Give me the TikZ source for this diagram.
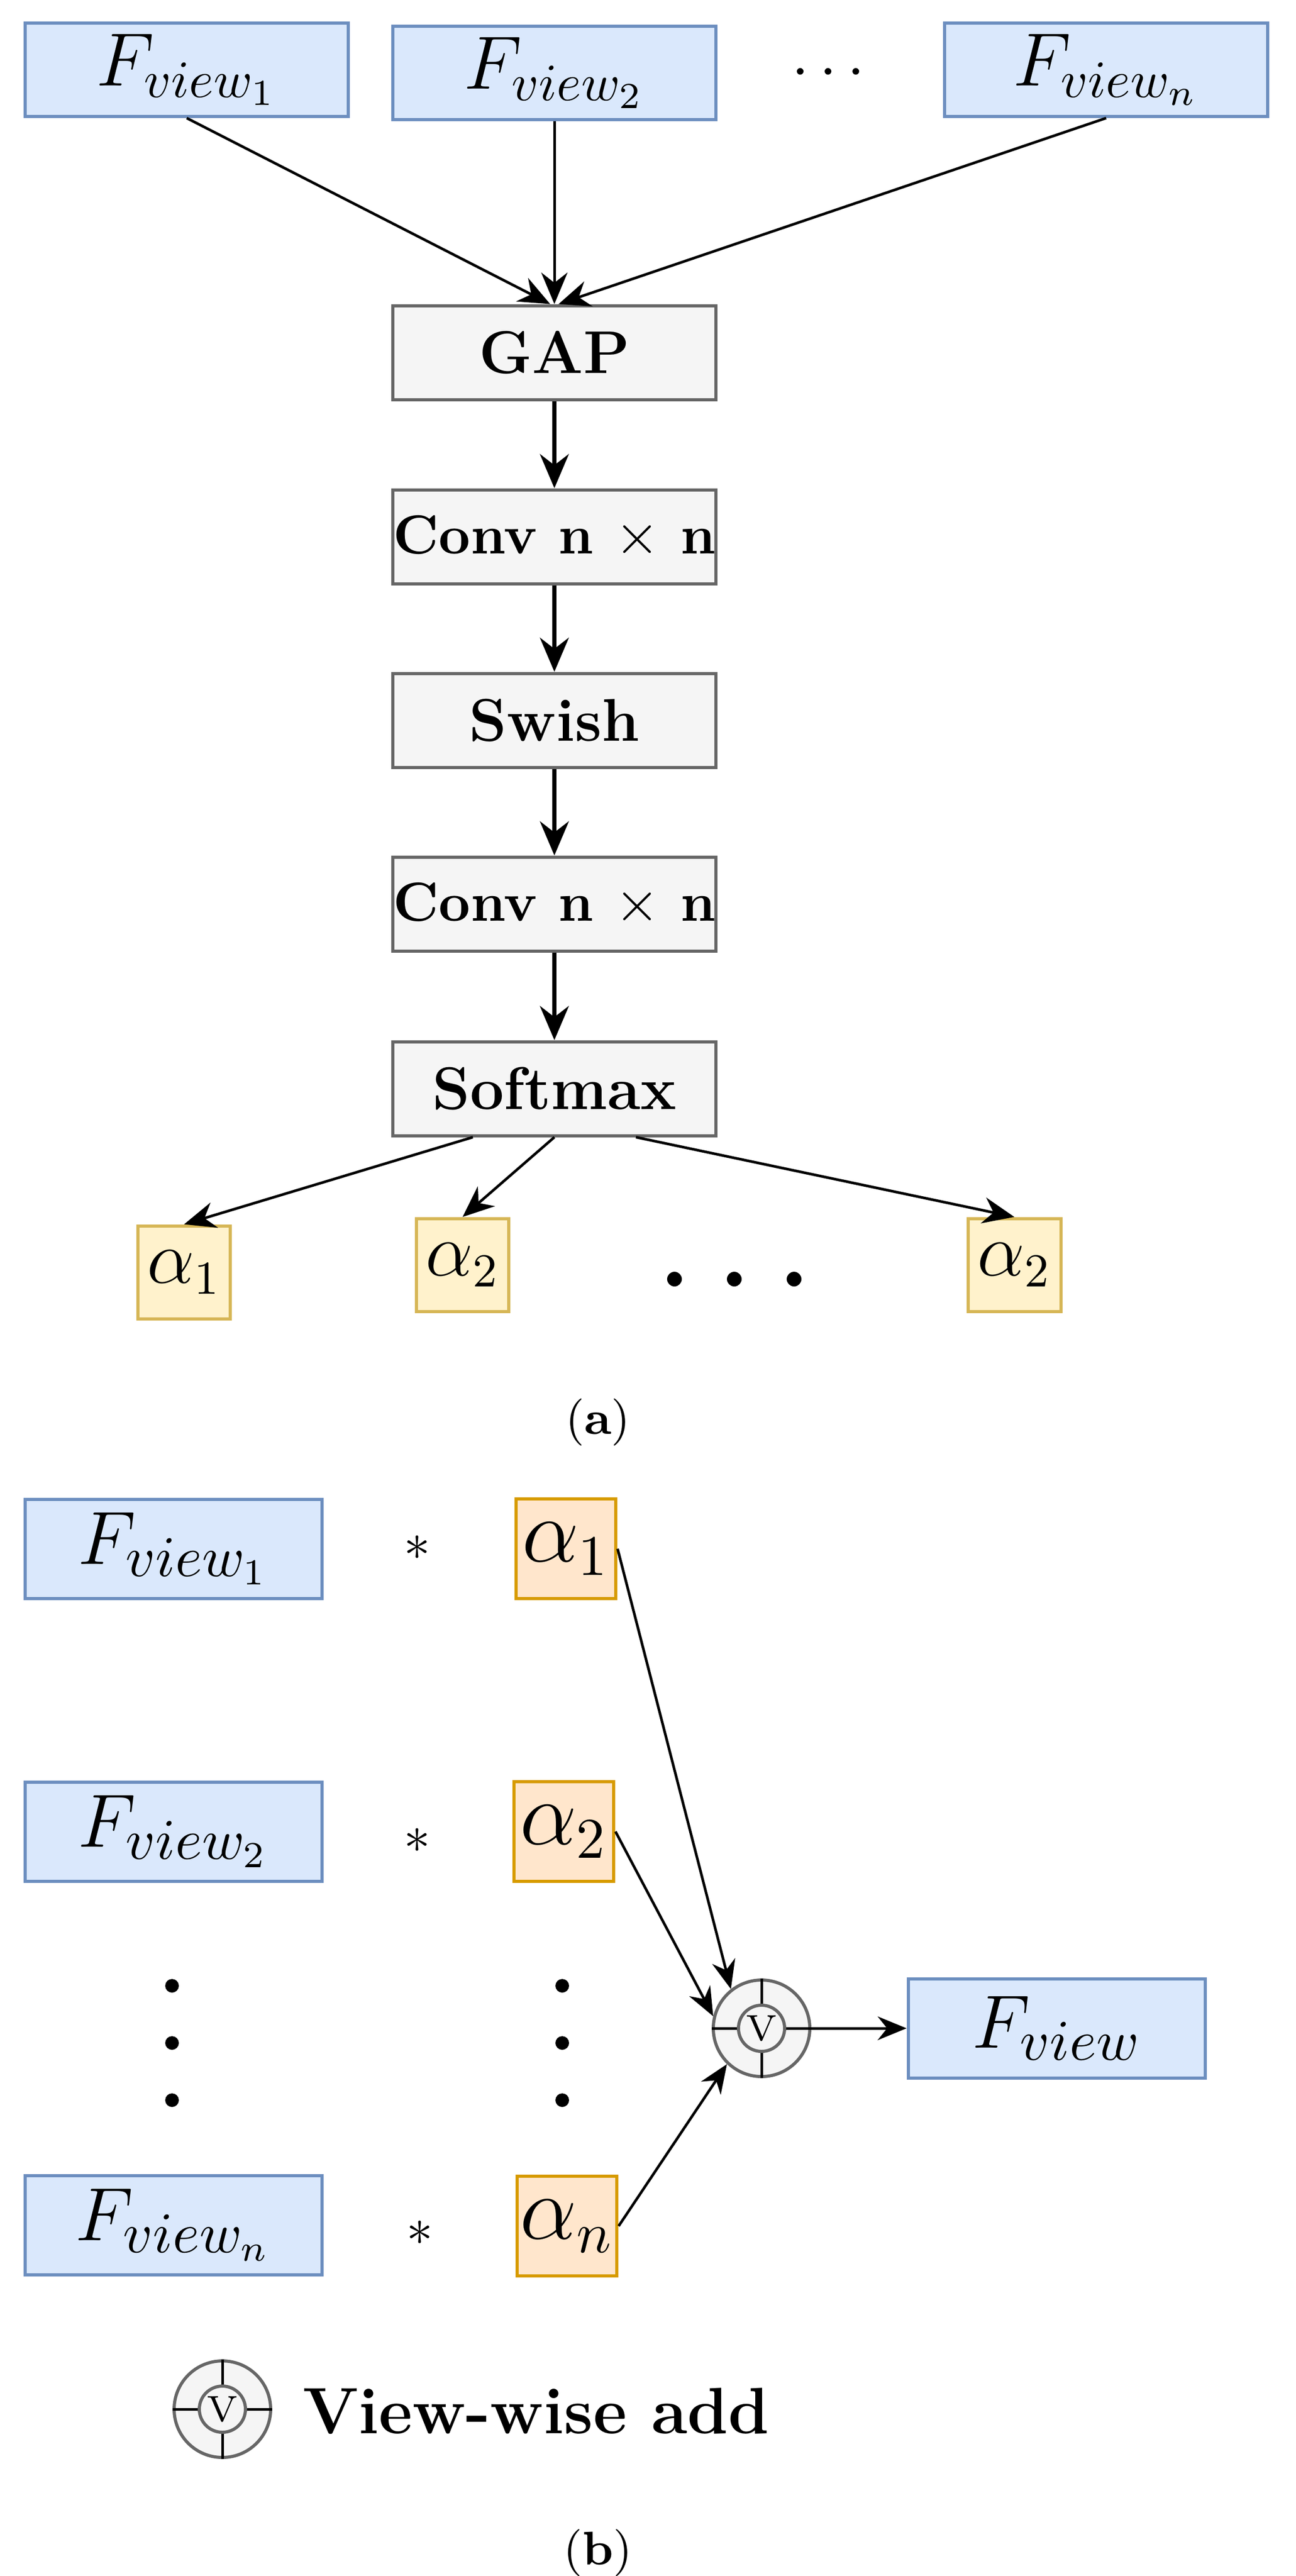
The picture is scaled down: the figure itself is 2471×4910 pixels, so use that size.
\documentclass[tikz,border=0pt]{standalone}
\usetikzlibrary{arrows.meta,calc}
\definecolor{bfill}{HTML}{DAE8FC}\definecolor{bdraw}{HTML}{6C8EBF}
\definecolor{gfill}{HTML}{F5F5F5}\definecolor{gdraw}{HTML}{666666}
\definecolor{yfill}{HTML}{FFF2CC}\definecolor{ydraw}{HTML}{D6B656}
\definecolor{ofill}{HTML}{FFE6CC}\definecolor{odraw}{HTML}{D79B00}
\begin{document}
\begin{tikzpicture}[x=0.1pt,y=-0.1pt,
  fv/.style={draw=bdraw,fill=bfill,line width=0.6pt,inner sep=0pt,minimum width=61.6pt,minimum height=17.8pt,font=\fontsize{14}{16}\selectfont},
  bfv/.style={fv,minimum width=56.7pt,minimum height=18.9pt,font=\fontsize{15}{17}\selectfont},
  op/.style={draw=gdraw,fill=gfill,line width=0.6pt,inner sep=0pt,minimum width=61.6pt,minimum height=17.9pt,font=\fontsize{11.5}{13}\selectfont\bfseries},
  conv/.style={op,font=\fontsize{10.5}{12}\selectfont\bfseries},
  ya/.style={draw=ydraw,fill=yfill,line width=0.6pt,inner sep=0pt,minimum size=17.7pt,font=\fontsize{13.5}{15}\selectfont},
  oa/.style={draw=odraw,fill=ofill,line width=0.6pt,inner sep=0pt,minimum width=19.1pt,minimum height=19pt,font=\fontsize{16}{18}\selectfont},
  arr/.style={-{Stealth[length=6pt,width=5pt]},line width=0.5pt},
  varr/.style={-{Stealth[length=6.5pt,width=5.5pt]},line width=0.75pt},
  barr/.style={-{Stealth[length=5.5pt,width=4.5pt]},line width=0.5pt},
  dot/.style={circle,fill=black,inner sep=0pt,minimum size=2.6pt},
  star/.style={font=\fontsize{10}{12}\selectfont},
  vouter/.style={circle,draw=gdraw,fill=gfill,line width=0.6pt,inner sep=0pt,minimum size=18.4pt},
  vinner/.style={circle,draw=gdraw,fill=gfill,line width=0.6pt,inner sep=0pt,minimum size=8.8pt,font=\fontsize{7}{8}\selectfont}
]
\useasboundingbox (0,0) rectangle (2471,4910);
% ---- (a) ----
\node[fv] (fv1) at (356,133) {$F_{view_1}$};
\node[fv] (fv2) at (1057,139) {$F_{view_2}$};
\node[fv] (fvn) at (2109,133) {$F_{view_n}$};
\node[font=\fontsize{12}{14}\selectfont] (tdots) at (1579,140) {$\cdots$};
\node[op] (gap) at (1057,672) {GAP};
\node[conv] (conv1) at (1057,1023) {Conv n $\times$ n};
\node[op] (swish) at (1057,1373) {Swish};
\node[conv] (conv2) at (1057,1723) {Conv n $\times$ n};
\node[op] (sm) at (1057,2075) {Softmax};
\node[ya] (a1) at (351,2425) {$\alpha_1$};
\node[ya] (a2) at (882,2411) {$\alpha_2$};
\node[ya] (a3) at (1934,2411) {$\alpha_2$};
\node[dot,minimum size=2.8pt] (d1) at (1286,2438) {};
\node[dot,minimum size=2.8pt] (d2) at (1400,2438) {};
\node[dot,minimum size=2.8pt] (d3) at (1514,2438) {};
\draw[arr] (fv1.south) -- ($(gap.north)+(-8,0)$);
\draw[arr] (fv2.south) -- (gap.north);
\draw[arr] (fvn.south) -- ($(gap.north)+(8,0)$);
\draw[varr] (gap) -- (conv1);
\draw[varr] (conv1) -- (swish);
\draw[varr] (swish) -- (conv2);
\draw[varr] (conv2) -- (sm);
\draw[arr] ($(sm.south west)!0.25!(sm.south east)$) -- (a1.north);
\draw[arr] (sm.south) -- (a2.north);
\draw[arr] ($(sm.south west)!0.75!(sm.south east)$) -- (a3.north);
\node[font=\fontsize{9}{11}\selectfont] (la) at (1140,2711) {(\textbf{a})};
% ---- (b) ----
\node[bfv] (b1) at (331,2952) {$F_{view_1}$};
\node[bfv] (b2) at (331,3491) {$F_{view_2}$};
\node[bfv] (bn) at (331,4241) {$F_{view_n}$};
\node[star] (s1) at (795,2950) {$*$};
\node[star] (s2) at (795,3508) {$*$};
\node[star] (s3) at (800,4256) {$*$};
\node[oa] (ba1) at (1079,2952) {$\alpha_1$};
\node[oa] (ba2) at (1075,3491) {$\alpha_2$};
\node[oa] (ban) at (1081,4243) {$\alpha_n$};
\foreach \yy [count=\i] in {3785,3894,4003}{
  \node[dot] (ld\i) at (328,\yy) {};
  \node[dot] (rd\i) at (1072,\yy) {};
}
\node[vouter] (v) at (1452,3866) {};
\draw[line width=0.5pt] (v.north) -- ++(0,48) (v.south) -- ++(0,-48) (v.west) -- ++(48,0) (v.east) -- ++(-48,0);
\node[vinner] (vi) at (v.center) {V};
\node[bfv] (fview) at (2015,3866) {$F_{view}$};
\draw[barr] (ba1.east) -- (v.128);
\draw[barr] (ba2.east) -- (v.166);
\draw[barr] (ban.east) -- (v.226);
\draw[barr] (v.east) -- (fview.west);
% legend
\node[vouter] (lv) at (424,4592) {};
\draw[line width=0.5pt] (lv.north) -- ++(0,48) (lv.south) -- ++(0,-48) (lv.west) -- ++(48,0) (lv.east) -- ++(-48,0);
\node[vinner] (lvi) at (lv.center) {V};
\node[anchor=west,font=\fontsize{12.5}{14}\selectfont\bfseries,inner sep=0pt] (lt) at (575,4596) {View-wise add};
\node[font=\fontsize{9}{11}\selectfont] (lb) at (1140,4866) {(\textbf{b})};
\end{tikzpicture}
\end{document}
